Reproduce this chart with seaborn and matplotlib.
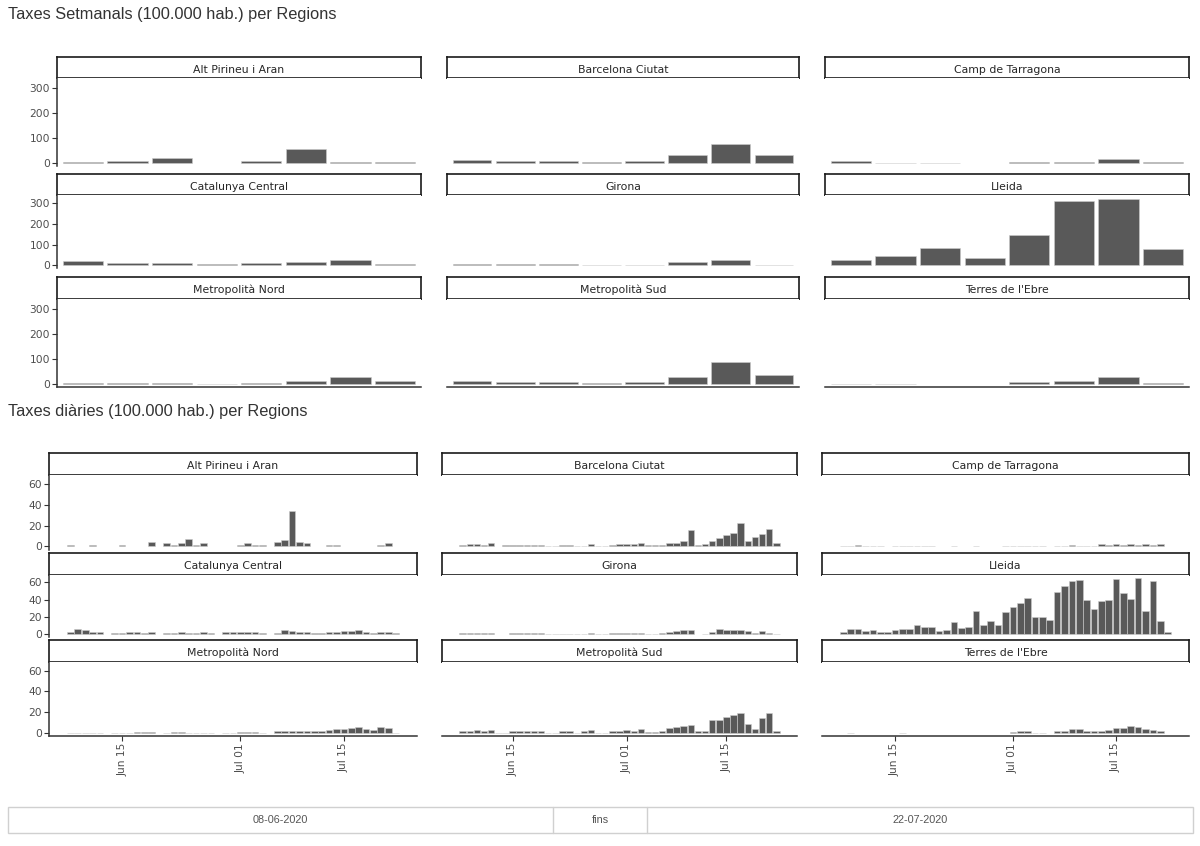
import numpy as np
import pandas as pd
import matplotlib
matplotlib.use("Agg")
import matplotlib.pyplot as plt
from matplotlib.patches import Rectangle
from matplotlib.lines import Line2D
import seaborn as sns

nan = np.nan

regions = ["Alt Pirineu i Aran", "Barcelona Ciutat", "Camp de Tarragona",
           "Catalunya Central", "Girona", "Lleida",
           "Metropolità Nord", "Metropolità Sud", "Terres de l'Ebre"]

# taxes setmanals (8 setmanes)
setmanes = ["S1", "S2", "S3", "S4", "S5", "S6", "S7", "S8"]
set_alt_pirineu = [2, 8, 17, nan, 7, 53, 1, 2]
set_barcelona = [9, 6, 6, 2, 8, 31, 75, 31]
set_tarragona = [5, 0, 0, nan, 1, 3, 13, 2]
set_cat_central = [21, 11, 8, 5, 12, 16, 23, 4]
set_girona = [6, 6, 4, 1, 3, 14, 24, 3]
set_lleida = [24, 45, 84, 36, 148, 310, 320, 79]
set_metro_nord = [1, 2, 2, 0, 2, 11, 26, 11]
set_metro_sud = [9, 5, 6, 2, 7, 27, 85, 34]
set_ebre = [0, 0, nan, nan, 5, 12, 26, 2]

# taxes diaries, 08-06-2020 .. 22-07-2020
dies = list(pd.date_range("2020-06-08", "2020-07-22").strftime("%Y-%m-%d"))
dia_alt_pirineu = [1.6, nan, nan, 1.6, nan, nan, nan, 1.6, nan, nan,
                   nan, 4.5, nan, 2.9, 1.6, 2.9, 7.4, 1.6, 2.9, nan,
                   nan, nan, nan, 1.6, 2.9, 1.6, 1.6, nan, 4.5, 6.1,
                   34.2, 4.5, 2.9, nan, nan, 1.6, 1.6, nan, nan, nan,
                   nan, nan, 1.6, 2.9, nan]
dia_barcelona = [1.6, 2, 2.3, 1.6, 3.2, nan, 1, 1, 1.3, 1.3,
                 1.3, 1.3, 0, 0, 1.3, 1.6, 0, 0, 2.6, 0,
                 0, 1, 2, 2, 2, 3.5, 1, 1, 1.3, 3.5,
                 2.9, 4.8, 16.1, 1.6, 2.3, 5.2, 8.1, 11, 12.9, 22.9,
                 5.5, 9, 11.6, 17.1, 3.5]
dia_tarragona = [0.6, 0.6, 1.6, 0.6, 0.6, 0, nan, 0, 0, 0,
                 0, 0, 0, nan, nan, 0, nan, nan, 0, nan,
                 nan, nan, 0, 0.6, 0.6, 0.6, 0.6, 0.6, nan, 0.6,
                 0.6, 1, 0.6, 0.6, 0, 1.9, 1, 2.3, 1.3, 1.9,
                 1.3, 2.6, 1, 1.9, nan]
dia_cat_central = [2.7, 5.4, 4.3, 2.7, 2.7, nan, 0.8, 1.2, 2.3, 2.3,
                   1.5, 2.3, nan, 0.8, 1.5, 1.9, 0.8, 1.5, 2.7, 1.2,
                   nan, 2.3, 2.3, 2.3, 2.7, 2.7, 1.5, nan, 1.5, 4.6,
                   3.5, 2.3, 2.3, 1.2, 0.8, 2.3, 2.3, 3.5, 3.5, 5,
                   2.3, 1.2, 2.3, 1.9, 0.8]
dia_girona = [1.5, 1.5, 1.5, 1.5, 1.5, nan, nan, 1.5, 1.5, 1.2,
              1.5, 1.2, 0, 0, 0, 0, 0, 0, 1.5, 0,
              0, 1.2, 1.2, 1.2, 1.2, 1.2, 0, 0, 1.5, 2.3,
              3.1, 5, 5, nan, 0, 2.3, 6.2, 4.3, 4.3, 5,
              3.1, 1.2, 3.5, 1.5, 0.5]
dia_lleida = [2, 5.4, 5.4, 3.5, 5, 2.3, 2, 5, 6.2, 6.2,
              10, 7.7, 7.7, 3, 5, 13.5, 6.6, 8.5, 26.3, 10.8,
              15.5, 10.4, 26, 31.3, 36.4, 41.4, 20, 20, 16.6, 48.4,
              55.7, 61, 63, 39, 28.6, 38, 39.8, 64.2, 48, 41,
              65.4, 26.3, 61, 15.5, 2.7]
dia_metro_nord = [0, 0, 0, 0, 0, nan, 0, 0, 0, 0.5,
                  0.7, 0.7, nan, 0, 0.5, 0.5, 0, 0, 0, 0,
                  nan, 0, 0, 0.5, 0.8, 0.5, 0, nan, 1.3, 1.3,
                  1.6, 1.6, 1.6, 1.3, 1, 2.9, 3.2, 3.5, 4.8, 5.5,
                  3.2, 2.9, 5.5, 4.5, 0]
dia_metro_sud = [1.9, 1.9, 2.3, 1.3, 2.3, 0, 0, 1, 1.3, 1,
                 1.6, 1, 0, 0, 1, 1.6, 0, 1.6, 2.6, 0,
                 0, 1, 1.9, 2.6, 1.6, 3.2, 0.6, 0.6, 1.9, 4.8,
                 5.1, 6.8, 7.7, 1.6, 1.6, 11.9, 11.9, 15.1, 16.7, 19,
                 8, 3.5, 13.8, 19, 1.3]
dia_ebre = [nan, 0, nan, nan, nan, nan, nan, nan, 0, nan,
            nan, nan, nan, nan, nan, nan, nan, nan, nan, nan,
            nan, nan, nan, 0.6, 1, 1, 0, 0, nan, 1.9,
            1, 3.5, 3.5, 1, 1.3, 1.9, 2.6, 3.9, 4.5, 6.4,
            5.5, 3.2, 2.9, 1, nan]

setmanal = [set_alt_pirineu, set_barcelona, set_tarragona, set_cat_central,
            set_girona, set_lleida, set_metro_nord, set_metro_sud, set_ebre]
diari = [dia_alt_pirineu, dia_barcelona, dia_tarragona, dia_cat_central,
         dia_girona, dia_lleida, dia_metro_nord, dia_metro_sud, dia_ebre]

df_set = pd.concat([pd.DataFrame({"regio": r, "setmana": setmanes, "taxa": v})
                    for r, v in zip(regions, setmanal)])
df_dia = pd.concat([pd.DataFrame({"regio": r, "data": dies, "taxa": v})
                    for r, v in zip(regions, diari)])

W, H = 1200, 846
sns.set_style("white")
plt.rcParams["font.family"] = ["DejaVu Sans"]
fig = plt.figure(figsize=(W / 100, H / 100), dpi=100)


def rect(x0, y0, x1, y1):
    return [x0 / W, 1 - y1 / H, (x1 - x0) / W, (y1 - y0) / H]


def strip(x0, y0, x1, y1, label):
    sax = fig.add_axes(rect(x0, y0, x1, y1))
    sax.set_xticks([])
    sax.set_yticks([])
    for s in sax.spines.values():
        s.set_color("#1a1a1a")
        s.set_linewidth(1.2)
    sax.text(0.5, 0.4, label, ha="center", va="center", fontsize=7.8, color="#262626")


def faceta(data, xcol, order, cols, rows, ylim, xlim, yticks, xticks=None, xlabels=None):
    for i, reg in enumerate(regions):
        r, c = divmod(i, 3)
        x0, x1 = cols[c]
        sy0, sy1, py1 = rows[r]
        strip(x0, sy0, x1, sy1, reg)
        ax = fig.add_axes(rect(x0, sy1, x1, py1))
        sub = data[data["regio"] == reg].dropna(subset=["taxa"])
        sns.barplot(data=sub, x=xcol, y="taxa", order=order, color="#595959",
                    saturation=1, errorbar=None, width=0.9,
                    edgecolor="#cccccc", linewidth=0.4, ax=ax)
        ax.set_xlim(*xlim)
        ax.set_ylim(*ylim)
        ax.set_xlabel("")
        ax.set_ylabel("")
        for s in ax.spines.values():
            s.set_visible(False)
        ax.tick_params(colors="#333333", labelcolor="#4d4d4d", labelsize=7.7,
                       length=3.5, width=0.8, pad=1.5)
        if c == 0:
            ax.spines["left"].set_visible(True)
            ax.spines["left"].set_color("#333333")
            ax.spines["left"].set_linewidth(1.1)
            ax.set_yticks(yticks)
            ax.set_yticklabels([str(t) for t in yticks])
            ax.tick_params(axis="y", left=True)
        else:
            ax.set_yticks([])
        if r == 2:
            ax.spines["bottom"].set_visible(True)
            ax.spines["bottom"].set_color("#333333")
            ax.spines["bottom"].set_linewidth(1.1)
            if xticks is not None:
                ax.set_xticks(xticks)
                ax.set_xticklabels(xlabels, rotation=90)
                ax.tick_params(axis="x", bottom=True)
            else:
                ax.set_xticks([])
        else:
            ax.set_xticks([])


# Taxes setmanals
fig.text(8 / W, 1 - 15 / H, "Taxes Setmanals (100.000 hab.) per Regions",
         fontsize=11.8, va="center", color="#333333", family=["Liberation Sans"])
faceta(df_set, "setmana", setmanes,
       cols=[(57, 421), (447, 799), (825, 1189)],
       rows=[(57, 78, 166), (174, 195, 268), (277, 299, 387)],
       ylim=(-14, 341), xlim=(-0.58, 7.58), yticks=[0, 100, 200, 300])

# Taxes diaries
fig.text(8 / W, 1 - 411 / H, "Taxes diàries (100.000 hab.) per Regions",
         fontsize=11.8, va="center", color="#333333", family=["Liberation Sans"])
tick_dates = ["2020-06-15", "2020-07-01", "2020-07-15"]
faceta(df_dia, "data", dies,
       cols=[(49, 417), (442, 797), (822, 1189)],
       rows=[(453, 475, 550), (553, 575, 637), (640, 662, 736)],
       ylim=(-3.4, 68.5), xlim=(-2.9, 46.9), yticks=[0, 20, 40, 60],
       xticks=[dies.index(d) for d in tick_dates],
       xlabels=["Jun 15", "Jul 01", "Jul 15"])

# selector de dates
fig.add_artist(Rectangle((8 / W, 1 - 833 / H), (1193 - 8) / W, 26 / H,
                         transform=fig.transFigure, fill=False,
                         edgecolor="#d0d0d0", linewidth=1))
for xv in (553, 647):
    fig.add_artist(Line2D([xv / W, xv / W], [1 - 833 / H, 1 - 807 / H],
                          transform=fig.transFigure, color="#d0d0d0", linewidth=1))
for xt, txt in ((280, "08-06-2020"), (600, "fins"), (920, "22-07-2020")):
    fig.text(xt / W, 1 - 820 / H, txt, ha="center", va="center", fontsize=7.8,
             color="#555555", family=["Liberation Sans"])

fig.savefig("out.png", dpi=100)
